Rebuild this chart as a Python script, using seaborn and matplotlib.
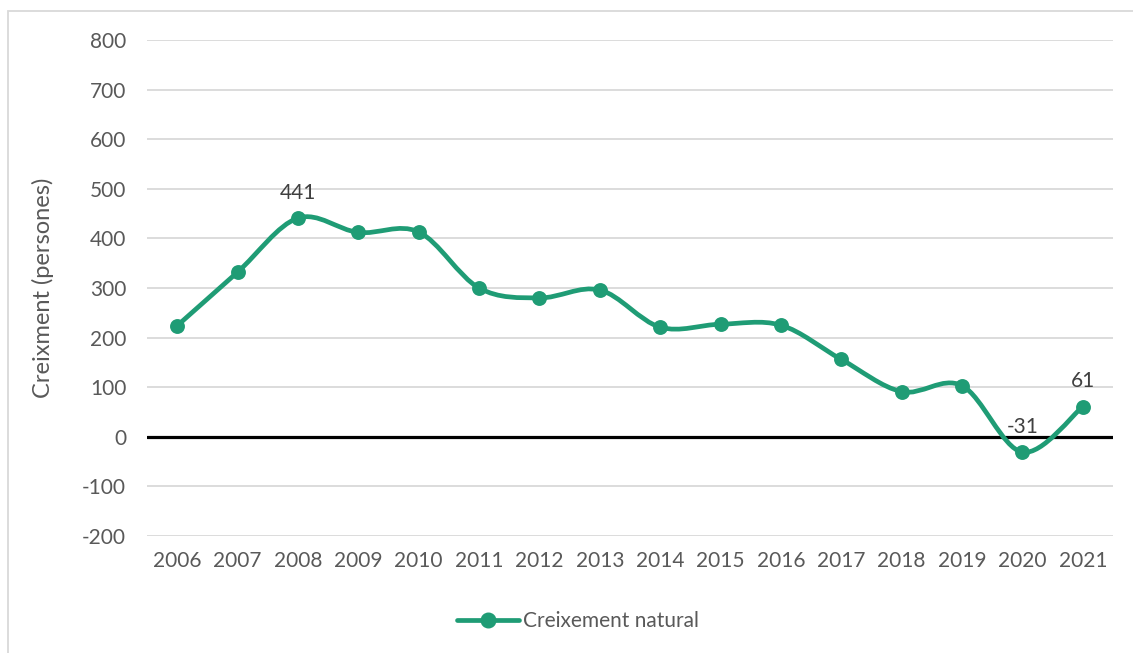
import numpy as np
import pandas as pd
import matplotlib
matplotlib.use("Agg")
import matplotlib.pyplot as plt
import seaborn as sns
from matplotlib.path import Path
from matplotlib.patches import PathPatch, Rectangle
from matplotlib.lines import Line2D

# Dades
anys = ["2006", "2007", "2008", "2009", "2010", "2011", "2012", "2013",
        "2014", "2015", "2016", "2017", "2018", "2019", "2020", "2021"]
creixement = [224, 332, 441, 412, 413, 300, 280, 296,
              221, 227, 225, 156, 91, 103, -31, 61]
anys_etiquetats = ["2008", "2020", "2021"]

VERD = "#1f9c75"
GRIS_TXT = "#595959"
MIDA = 15

sns.set_theme(style="white")
plt.rcParams["font.family"] = ["Lato", "DejaVu Sans"]
plt.rcParams["axes.unicode_minus"] = False

df = pd.DataFrame({"any": anys, "valor": creixement})
df["pos"] = np.arange(len(df))

fig = plt.figure(figsize=(11.33, 6.53), dpi=100)
ax = fig.add_axes([147 / 1133, 1 - 536 / 653, (1113 - 147) / 1133, (536 - 40) / 653])

# marc del gràfic (només es veuen la vora superior i esquerra)
fig.patches.append(Rectangle((8 / 1133, -0.05), 1.2, 1.05 - 10.5 / 653,
                             transform=fig.transFigure, fill=False,
                             edgecolor="#d9d9d9", lw=1.3))

# línia suavitzada (bezier tipus Catmull-Rom a partir de les dades)
x = df["pos"].to_numpy(float)
y = df["valor"].to_numpy(float)
verts = [(x[0], y[0])]
codes = [Path.MOVETO]
n = len(x)
for i in range(n - 1):
    x0, y0 = (x[i - 1], y[i - 1]) if i > 0 else (x[i], y[i])
    x3, y3 = (x[i + 2], y[i + 2]) if i + 2 < n else (x[i + 1], y[i + 1])
    c1 = (x[i] + (x[i + 1] - x0) / 6, y[i] + (y[i + 1] - y0) / 6)
    c2 = (x[i + 1] - (x3 - x[i]) / 6, y[i + 1] - (y3 - y[i]) / 6)
    verts += [c1, c2, (x[i + 1], y[i + 1])]
    codes += [Path.CURVE4] * 3
ax.add_patch(PathPatch(Path(verts, codes), fill=False, edgecolor=VERD,
                       lw=3.4, capstyle="round", joinstyle="round", zorder=3))

sns.scatterplot(data=df, x="pos", y="valor", color=VERD, s=115,
                edgecolor=VERD, linewidth=0, zorder=4, ax=ax, legend=False)

for _, r in df[df["any"].isin(anys_etiquetats)].iterrows():
    ax.annotate(str(r["valor"]), (r["pos"], r["valor"]), xytext=(0, 11),
                textcoords="offset points", ha="center", va="bottom",
                fontsize=MIDA, color="#404040")

ax.set_xlim(-0.5, len(anys) - 0.5)
ax.set_ylim(-200, 800)
ax.set_yticks(range(-200, 801, 100))
ax.set_xticks(df["pos"])
ax.set_xticklabels(anys)
ax.yaxis.grid(True, color="#d9d9d9", lw=1.3)
ax.xaxis.grid(False)
ax.axhline(0, color="black", lw=2.3, zorder=2)
for s in ax.spines.values():
    s.set_visible(False)
ax.tick_params(axis="both", length=0, labelsize=MIDA, labelcolor=GRIS_TXT)
ax.tick_params(axis="y", pad=15)
ax.tick_params(axis="x", pad=11)
ax.set_xlabel("")
ax.set_ylabel("Creixment (persones)", fontsize=17, color=GRIS_TXT, labelpad=20)

handle = Line2D([], [], color=VERD, lw=3.4, marker="o", markersize=10.5,
                solid_capstyle="round")
fig.legend([handle], ["Creixement natural"], loc="center",
           bbox_to_anchor=(578 / 1133, 1 - 621 / 653), frameon=False,
           fontsize=MIDA, labelcolor=GRIS_TXT, handlelength=3.0,
           handletextpad=0.2)

fig.savefig("out.png", dpi=100, facecolor="white")
